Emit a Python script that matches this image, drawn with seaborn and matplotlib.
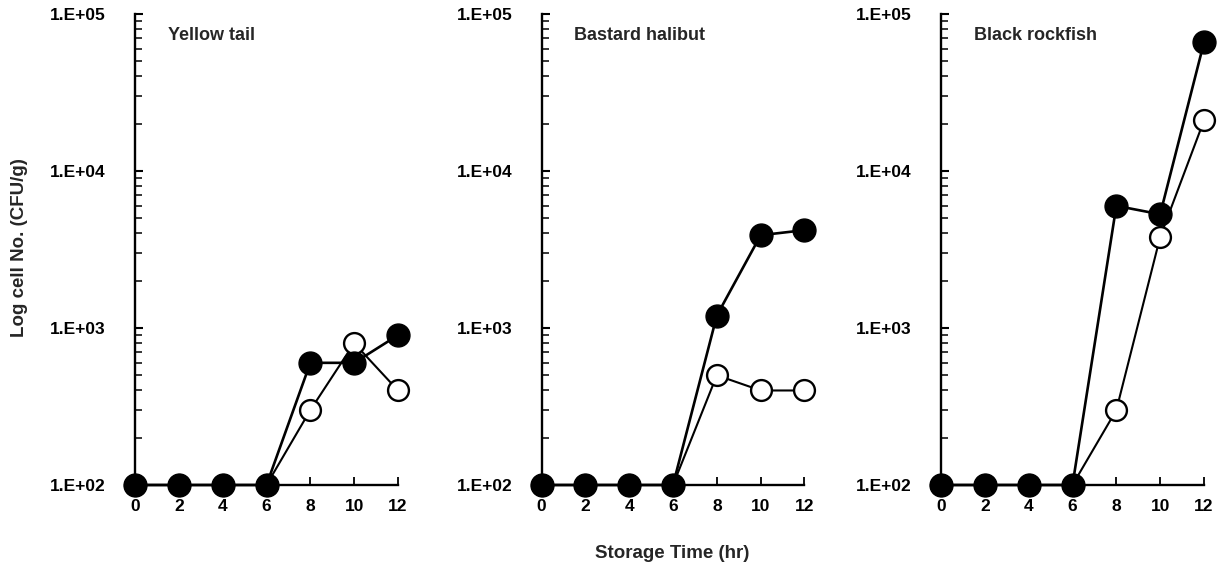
import matplotlib
matplotlib.use("Agg")
import matplotlib.pyplot as plt
import seaborn as sns
import pandas as pd

# data
hours = [0, 2, 4, 6, 8, 10, 12]
panel_titles = ["Yellow tail", "Bastard halibut", "Black rockfish"]
filled_counts = [
    [100, 100, 100, 100, 600, 600, 900],
    [100, 100, 100, 100, 1200, 3900, 4200],
    [100, 100, 100, 100, 6000, 5300, 66000],
]
open_counts = [
    [100, 100, 100, 100, 300, 800, 400],
    [100, 100, 100, 100, 500, 400, 400],
    [100, 100, 100, 100, 300, 3800, 21000],
]
y_ticks = [1e2, 1e3, 1e4, 1e5]
y_tick_labels = ["1.E+02", "1.E+03", "1.E+04", "1.E+05"]
x_ticks = [0, 2, 4, 6, 8, 10, 12]

sns.set_style("ticks")
plt.rcParams["font.family"] = ["Liberation Sans", "DejaVu Sans"]
plt.rcParams["font.weight"] = "bold"

fig = plt.figure(figsize=(12.19, 5.74), dpi=100)
lefts = [135 / 1219, 541.5 / 1219, 941 / 1219]
width = 263 / 1219
bottom = (574 - 485) / 574
height = 471 / 574

for i, title in enumerate(panel_titles):
    ax = fig.add_axes([lefts[i], bottom, width, height])
    df = pd.DataFrame({"hr": hours, "open": open_counts[i], "filled": filled_counts[i]})

    # open circles underneath, filled circles on top
    sns.lineplot(data=df, x="hr", y="open", ax=ax, color="black", lw=1.5,
                 marker="o", markersize=15, markerfacecolor="white",
                 markeredgecolor="black", markeredgewidth=1.7, clip_on=False, zorder=3)
    sns.lineplot(data=df, x="hr", y="filled", ax=ax, color="black", lw=1.9,
                 marker="o", markersize=16.5, markerfacecolor="black",
                 markeredgecolor="black", markeredgewidth=1.0, clip_on=False, zorder=4)

    ax.set_yscale("log")
    ax.set_ylim(1e2, 1e5)
    ax.set_xlim(0, 12)
    ax.set_yticks(y_ticks)
    ax.set_yticklabels(y_tick_labels)
    ax.set_xticks(x_ticks)
    ax.set_xticklabels([str(t) for t in x_ticks])
    ax.set_xlabel("")
    ax.set_ylabel("")

    for side in ["top", "right"]:
        ax.spines[side].set_visible(False)
    for side in ["left", "bottom"]:
        ax.spines[side].set_linewidth(1.7)
        ax.spines[side].set_color("black")

    ax.tick_params(axis="y", which="major", direction="in", length=6, width=1.5,
                   pad=21, labelsize=12.5, colors="black")
    ax.tick_params(axis="y", which="minor", direction="in", length=5, width=1.3)
    ax.tick_params(axis="x", which="major", direction="in", length=6, width=1.3,
                   pad=10, labelsize=12.5, colors="black")
    for lab in ax.get_xticklabels() + ax.get_yticklabels():
        lab.set_fontweight("bold")

    ax.text(0.125, 0.955, title, transform=ax.transAxes, fontsize=13,
            fontweight="bold", va="center", ha="left")

fig.text(0.016, 1 - 248 / 574, "Log cell No. (CFU/g)", rotation=90, fontsize=13.5,
         fontweight="bold", ha="center", va="center")
fig.text(672 / 1219, 1 - 553 / 574, "Storage Time (hr)", fontsize=13.5,
         fontweight="bold", ha="center", va="center")

fig.savefig("out.png", dpi=100)
